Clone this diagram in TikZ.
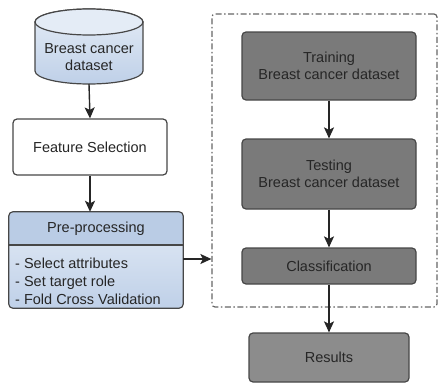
\documentclass[tikz,border=0pt]{standalone}
\usepackage{fontspec}
\setmainfont{Liberation Sans}
\usetikzlibrary{arrows.meta,positioning,calc}
\definecolor{txt}{HTML}{262626}
\definecolor{edge}{HTML}{474747}
\definecolor{dark}{HTML}{7A7A7A}
\definecolor{darkres}{HTML}{8C8C8C}
\definecolor{bluetop}{HTML}{E4ECF6}
\definecolor{bluebot}{HTML}{BFD0E8}
\definecolor{bluehead}{HTML}{BACCE5}
\definecolor{grpline}{HTML}{666666}
\begin{document}
\begin{tikzpicture}[x=1pt,y=-1pt,
  every node/.style={font=\fontsize{14.5}{17.5}\selectfont, text=txt, align=center, inner sep=0pt},
  conn/.style={draw=txt, line width=1.4pt, -{Stealth[width=10pt,length=11pt,inset=2.5pt]}},
  whitebox/.style={draw=edge, line width=1.2pt, fill=white, rounded corners=4pt},
  darkbox/.style={draw=edge, line width=1.2pt, fill=dark, rounded corners=4pt},
  resbox/.style={draw=edge, line width=1.2pt, fill=darkres, rounded corners=4pt},
  grpbox/.style={draw=grpline, line width=1.2pt, dash pattern=on 6pt off 2.5pt on 1.5pt off 2.5pt, rounded corners=3pt}
]
\useasboundingbox (0,0) rectangle (440,383);
% cylinder
\shade[top color=bluetop, bottom color=bluebot, draw=edge, line width=1.2pt]
  (35,22) -- (35,71) arc[start angle=180, end angle=360, x radius=54pt, y radius=13pt]
  -- (143,22) arc[start angle=0, end angle=180, x radius=54pt, y radius=13pt] -- cycle;
\draw[edge, line width=1.2pt, fill=bluetop] (89,22) ellipse[x radius=54pt, y radius=13pt];
\node (db) at (89,57) {Breast cancer\\dataset};
\coordinate (dbbot) at (89,84);
% feature selection
\node[whitebox, minimum width=154pt, minimum height=56pt] (fs) at (90,147) {Feature Selection};
% pre-processing
\node[rounded corners=4pt, top color=bluetop, bottom color=bluebot,
      minimum width=174pt, minimum height=96pt] (pp) at (96,260) {};
\fill[bluehead, rounded corners=4pt] (9,245) -- (9,212) -- (183,212) -- (183,245) [sharp corners] -- cycle;
\draw[edge, line width=1.2pt, rounded corners=4pt] (pp.south west) rectangle (pp.north east);
\draw[edge, line width=1.2pt] (9,245) -- (183,245);
\node (pptitle) at (96,229) {Pre-processing};
\node[align=left, anchor=west, font=\fontsize{14.5}{18}\selectfont] (ppitems) at (15,281)
  {- Select attributes\\- Set target role\\- Fold Cross Validation};
\coordinate (ppa) at (183,259);
% group
\node[grpbox, minimum width=225pt, minimum height=293pt] (grp) at (324.5,160.5) {};
\node[darkbox, minimum width=174pt, minimum height=68pt] (train) at (329,66) {Training\\Breast cancer dataset};
\node[darkbox, minimum width=174pt, minimum height=70pt] (test) at (329,174) {Testing\\Breast cancer dataset};
\node[darkbox, minimum width=174pt, minimum height=36pt] (cls) at (329,266) {Classification};
\node[resbox, minimum width=160pt, minimum height=49pt] (res) at (329,357.5) {Results};
% connectors
\draw[conn] (dbbot) -- (fs.north);
\draw[conn] (fs.south) -- (pp.north -| fs.south);
\draw[conn] (ppa) -- (ppa -| grp.west);
\draw[conn] (train.south) -- (test.north);
\draw[conn] (test.south) -- (cls.north);
\draw[conn] (cls.south) -- (res.north);
\end{tikzpicture}
\end{document}
